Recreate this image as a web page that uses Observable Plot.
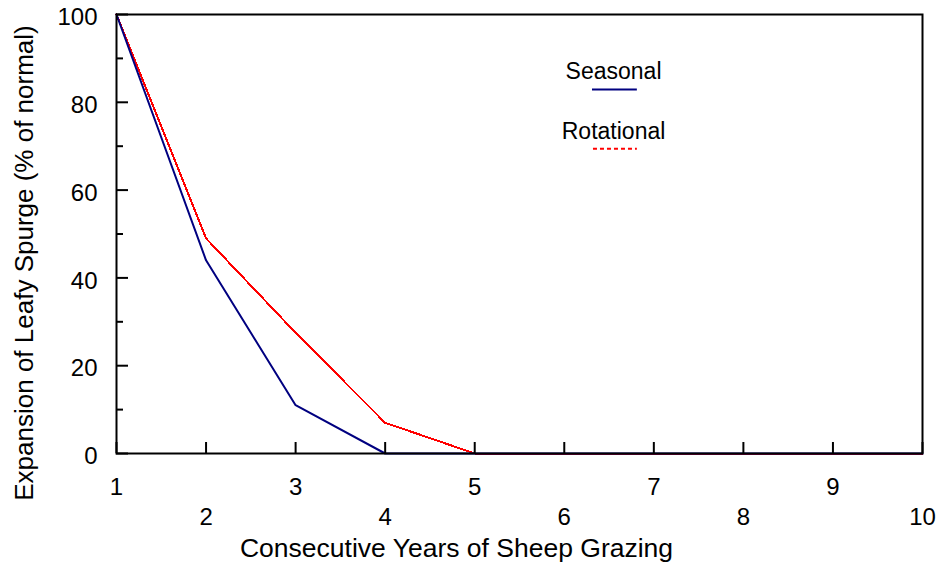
<!DOCTYPE html>
<html>
<head>
<meta charset="utf-8">
<script src="https://cdn.jsdelivr.net/npm/d3@7"></script>
<script src="https://cdn.jsdelivr.net/npm/@observablehq/plot@0.6"></script>
<style>
  html, body { margin: 0; padding: 0; background: #fff; }
  #chart svg { display: block; }
</style>
</head>
<body>
<div id="chart"></div>
<script>
const years = [1, 2, 3, 4, 5, 6, 7, 8, 9, 10];
const seasonal = [100, 44, 11, 0, 0, 0, 0, 0, 0, 0];
const rotational = [100, 49, 27.5, 7, 0, 0, 0, 0, 0, 0];
const seriesNames = ["Seasonal", "Rotational"];
const seriesColors = ["#000080", "#ff0000"];
const xTicksOdd = [1, 3, 5, 7, 9];
const xTicksEven = [2, 4, 6, 8, 10];
const yTicksMajor = [0, 20, 40, 60, 80, 100];
const yTicksMinor = [10, 30, 50, 70, 90];
const xTitle = "Consecutive Years of Sheep Grazing";
const yTitle = "Expansion of Leafy Spurge (% of normal)";

const W = 939, H = 563;
const mL = 116, mR = 17, mT = 14, mB = 110;
const fw = W - mL - mR, fh = H - mT - mB;
const font = "'Liberation Sans', Arial, Helvetica, sans-serif";

const seasonalData = years.map((x, i) => ({x, y: seasonal[i]}));
const rotationalData = years.map((x, i) => ({x, y: rotational[i]}));

// legend placement in data units
const legend = [
  {name: seriesNames[0], color: seriesColors[0], tx: 6.55, ty: 87.1, ly: 82.9, x1: 6.315, x2: 6.816, dash: null},
  {name: seriesNames[1], color: seriesColors[1], tx: 6.55, ty: 73.4, ly: 69.4, x1: 6.326, x2: 6.816, dash: "4,3"}
];

const chart = Plot.plot({
  width: W,
  height: H,
  marginLeft: mL,
  marginRight: mR,
  marginTop: mT,
  marginBottom: mB,
  style: {fontFamily: font, fontSize: "24px", color: "#000", background: "#fff"},
  x: {domain: [1, 10]},
  y: {domain: [0, 100]},
  marks: [
    Plot.line(rotationalData, {x: "x", y: "y", stroke: seriesColors[1], strokeWidth: 2, shapeRendering: "crispEdges"}),
    Plot.line(seasonalData, {x: "x", y: "y", stroke: seriesColors[0], strokeWidth: 2}),
    Plot.frame({stroke: "#000", strokeWidth: 2}),
    Plot.tickX(years, {x: d => d, insetTop: fh - 11, stroke: "#000", strokeWidth: 2}),
    Plot.tickY(yTicksMajor, {y: d => d, insetRight: fw - 12, stroke: "#000", strokeWidth: 2}),
    Plot.tickY(yTicksMinor, {y: d => d, insetRight: fw - 7, stroke: "#000", strokeWidth: 2}),
    Plot.axisX({ticks: xTicksOdd, tickSize: 0, tickPadding: 24, fontSize: 24, label: null, tickFormat: d => String(d)}),
    Plot.axisX({ticks: xTicksEven, tickSize: 0, tickPadding: 54, fontSize: 24, label: null, tickFormat: d => String(d)}),
    Plot.axisY({ticks: yTicksMajor, tickSize: 0, tickPadding: 19, fontSize: 24, dy: 3, label: null, tickFormat: d => String(d)}),
    Plot.text([xTitle], {text: d => d, frameAnchor: "bottom", lineAnchor: "top", textAnchor: "middle", dx: -63, dy: 85, fontSize: 26.5, fill: "#000"}),
    Plot.text([yTitle], {text: d => d, frameAnchor: "left", rotate: -90, textAnchor: "middle", lineAnchor: "middle", dx: -92, dy: 29, fontSize: 26, fill: "#000"}),
    Plot.text(legend, {x: "tx", y: "ty", text: "name", fontSize: 23, fill: "#000", lineAnchor: "middle"}),
    Plot.ruleY(legend.filter(d => !d.dash), {y: "ly", x1: "x1", x2: "x2", stroke: "color", strokeWidth: 2}),
    Plot.ruleY(legend.filter(d => d.dash), {y: "ly", x1: "x1", x2: "x2", stroke: "color", strokeWidth: 2, strokeDasharray: "4,3"})
  ]
});
document.getElementById("chart").appendChild(chart);
</script>
</body>
</html>
